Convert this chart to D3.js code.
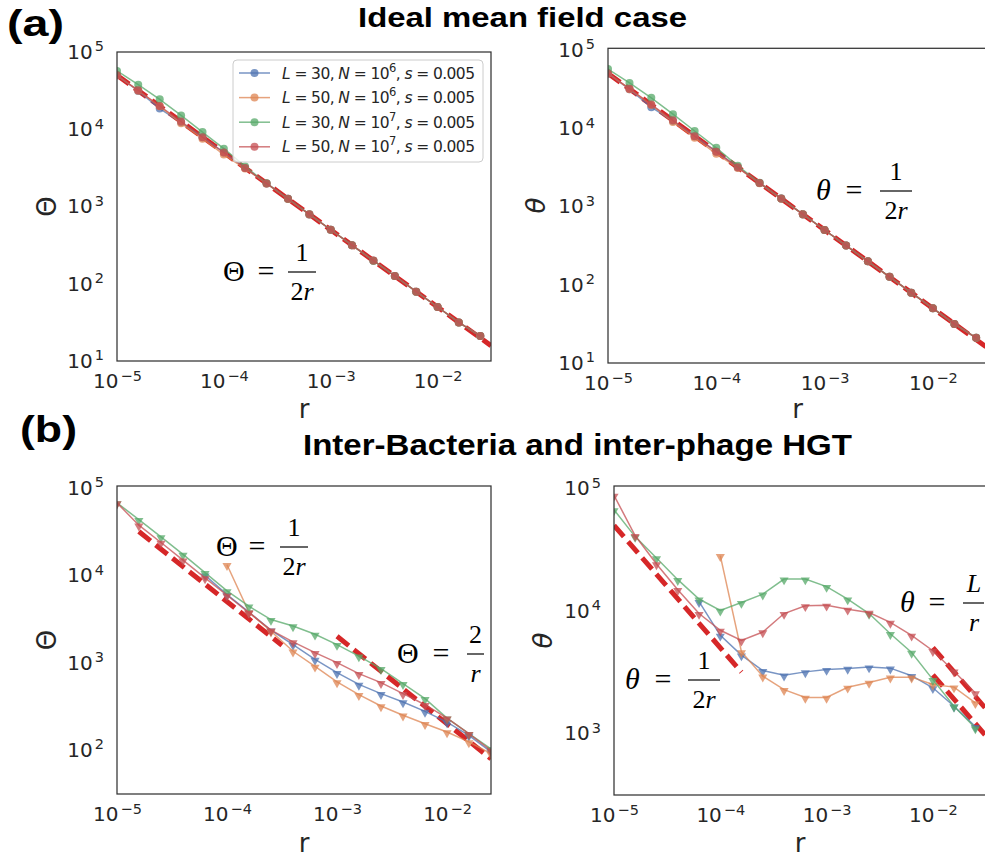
<!DOCTYPE html>
<html>
<head>
<meta charset="utf-8">
<script src="https://cdn.jsdelivr.net/npm/d3@7"></script>
<style>
  body { margin: 0; background: #fff; }
  text { fill: #262626; }
</style>
</head>
<body>
<div id="container"></div>
<script>
// recombination rates (x values)
const rVals = [1.0e-5, 1.58e-5, 2.51e-5, 3.98e-5, 6.31e-5, 1.0e-4, 1.58e-4, 2.51e-4, 3.98e-4,
               6.31e-4, 1.0e-3, 1.58e-3, 2.51e-3, 3.98e-3, 6.31e-3, 1.0e-2, 1.58e-2, 2.51e-2];

// (a) ideal mean field, same numbers in both panels
const aBlue   = [50000, 31300, 18500, 12300, 7900, 5000, 3150, 1990, 1260, 790, 500, 316, 199, 126, 79, 50, 31.6, 21];
const aOrange = [50000, 31500, 19800, 12000, 7550, 4700, 3100, 1980, 1250, 790, 500, 316, 199, 126, 79, 50, 31.6, 21];
const aGreen  = [56800, 37800, 24400, 15100, 9200, 5600, 3300, 2000, 1260, 795, 500, 316, 199, 126, 79, 50, 31.6, 21];
const aRed    = [50000, 31900, 20000, 12600, 7900, 5000, 3160, 1990, 1260, 792, 500, 316, 200, 126, 79, 50, 31.6, 21];

// (b) left, Theta
const bThBlue   = [null, null, null, null, 10000, 6010, 3800, 2350, 1610, 1090, 767, 564, 442, 355, 277, 209, 147, 95];
const bThOrange = [null, null, null, null, null, 13200, 3800, 2290, 1350, 908, 601, 430, 319, 250, 200, 161, 124, 91];
const bThGreen  = [67300, 43400, 27500, 17300, 10700, 6620, 4420, 3110, 2630, 2110, 1610, 1190, 853, 575, 387, 232, 154, 103];
const bThRed    = [67300, 37400, 23700, 14900, 9320, 5900, 3740, 2350, 1730, 1300, 1000, 748, 590, 442, 330, 232, 154, 99];

// (b) right, theta
const bthBlue   = [null, null, null, null, 11900, 6310, 4350, 3250, 2980, 3170, 3310, 3380, 3470, 3400, 2950, 2350, 1660, 1130];
const bthOrange = [null, null, null, null, null, 28300, 4630, 2920, 2270, 1960, 1960, 2370, 2600, 2870, 2870, 2500, 2380, 1770];
const bthGreen  = [67100, 40500, 27100, 18000, 12500, 10100, 11700, 13700, 18200, 18200, 15800, 12500, 9510, 6500, 4570, 2740, 1660, 1100];
const bthRed    = [88100, 41300, 24200, 14900, 9510, 6940, 5740, 6720, 9510, 11000, 11100, 10300, 9700, 8050, 6310, 4720, 3210, 2130];

// guide lines (dashed), endpoints only
const refA    = { r: [1e-5, 0.0316], v: [50000, 15.8] };
const refB1a  = { r: [1.58e-5, 3.16e-4], v: [31600, 1580] };
const refB1b  = { r: [1.0e-3, 0.0251], v: [2000, 79.6] };
const refB2a  = { r: [1e-5, 1.58e-4], v: [50000, 3160] };
const refB2L50 = { r: [0.01, 0.0316], v: [5000, 1580] };
const refB2L30 = { r: [0.01, 0.0316], v: [3000, 949] };

const legendL = [30, 50, 30, 50];
const legendNexp = [6, 6, 7, 7];
const legendS = '0.005';

const xTickExps = [-5, -4, -3, -2];
const colors = ['#4C72B0', '#DD8452', '#55A868', '#C44E52'];

const w = 985, h = 861;

const svg = d3.select('#container')
  .append('svg')
  .attr('width', w)
  .attr('height', h)
  .attr('viewBox', [0, 0, w, h]);

const panels = [
  { x0: 117, x1: 491, y0: 52, y1: 361, xd: [1e-5, 0.0316], yd: [10, 1e5], yExps: [1, 2, 3, 4, 5],
    yLabel: 'Θ', italic: false, labX: 56, rY: 418,
    series: [aBlue, aOrange, aGreen, aRed], marker: 'circle', refs: [refA] },
  { x0: 608, x1: 987, y0: 48.3, y1: 363, xd: [1e-5, 0.0316], yd: [10, 1.047e5], yExps: [1, 2, 3, 4, 5],
    yLabel: 'θ', italic: true, labX: 545, rY: 418,
    series: [aBlue, aOrange, aGreen, aRed], marker: 'circle', refs: [refA] },
  { x0: 117, x1: 491, y0: 486, y1: 794, xd: [1e-5, 0.0251], yd: [31.4, 1.05e5], yExps: [2, 3, 4, 5],
    yLabel: 'Θ', italic: false, labX: 56, rY: 852,
    series: [bThBlue, bThOrange, bThGreen, bThRed], marker: 'tri', refs: [refB1a, refB1b] },
  { x0: 614, x1: 986, y0: 486, y1: 795, xd: [1e-5, 0.0316], yd: [312, 1.05e5], yExps: [3, 4, 5],
    yLabel: 'θ', italic: true, labX: 552, rY: 852,
    series: [bthBlue, bthOrange, bthGreen, bthRed], marker: 'tri', refs: [refB2a, refB2L50, refB2L30] }
];

const supText = e => (e < 0 ? '\u2212' + (-e) : String(e));

function powLabel(sel, e) {
  sel.text('10')
    .attr('font-size', 20)
    .style('font-size', '20px')
    .style('font-family', '"DejaVu Sans", sans-serif');
  sel.append('tspan')
    .attr('dy', -7.5).attr('dx', 2)
    .style('font-size', '14.5px')
    .text(supText(e));
}

panels.forEach((p, i) => {
  const x = d3.scaleLog().domain(p.xd).range([p.x0, p.x1]);
  const y = d3.scaleLog().domain(p.yd).range([p.y1, p.y0]);
  const g = svg.append('g');

  g.append('clipPath').attr('id', 'clip' + i)
    .append('rect')
    .attr('x', p.x0).attr('y', p.y0)
    .attr('width', p.x1 - p.x0).attr('height', p.y1 - p.y0);

  const plot = g.append('g').attr('clip-path', `url(#clip${i})`);

  const refLine = d3.line().x(d => x(d[0])).y(d => y(d[1]));
  p.refs.forEach(ref => {
    plot.append('path')
      .attr('d', refLine(ref.r.map((r, j) => [r, ref.v[j]])))
      .attr('fill', 'none')
      .attr('stroke', '#d62728')
      .attr('stroke-width', 5)
      .attr('stroke-dasharray', '15 6.5');
  });

  const line = d3.line()
    .defined(d => d[1] != null)
    .x(d => x(d[0]))
    .y(d => y(d[1]));

  p.series.forEach((vals, si) => {
    const pts = rVals.map((r, j) => [r, vals[j]]);
    plot.append('path')
      .attr('d', line(pts))
      .attr('fill', 'none')
      .attr('stroke', colors[si])
      .attr('stroke-opacity', 0.75)
      .attr('stroke-width', 1.5);

    const ok = pts.filter(d => d[1] != null);
    if (p.marker === 'circle') {
      plot.selectAll(null).data(ok).enter()
        .append('circle')
        .attr('cx', d => x(d[0]))
        .attr('cy', d => y(d[1]))
        .attr('r', 4)
        .attr('fill', colors[si])
        .attr('fill-opacity', 0.75);
    } else {
      plot.selectAll(null).data(ok).enter()
        .append('path')
        .attr('d', d3.symbol(d3.symbolTriangle, 36))
        .attr('transform', d => `translate(${x(d[0])},${y(d[1]) + 1}) rotate(180)`)
        .attr('fill', colors[si])
        .attr('fill-opacity', 0.75);
    }
  });

  g.append('rect')
    .attr('x', p.x0).attr('y', p.y0)
    .attr('width', p.x1 - p.x0).attr('height', p.y1 - p.y0)
    .attr('fill', 'none')
    .attr('stroke', '#333')
    .attr('stroke-width', 1.25);

  const gx = g.append('g')
    .attr('transform', `translate(0,${p.y1})`)
    .call(d3.axisBottom(x).tickValues(xTickExps.map(e => Math.pow(10, e))).tickSize(0).tickPadding(13))
    .attr('font-size', 20);
  gx.select('.domain').remove();
  gx.selectAll('text').each(function(d, j) { powLabel(d3.select(this), xTickExps[j]); });

  const gy = g.append('g')
    .attr('transform', `translate(${p.x0},0)`)
    .call(d3.axisLeft(y).tickValues(p.yExps.map(e => Math.pow(10, e))).tickSize(0).tickPadding(13))
    .attr('font-size', 20);
  gy.select('.domain').remove();
  gy.selectAll('text').each(function(d, j) { powLabel(d3.select(this), p.yExps[j]); });

  g.append('text')
    .attr('x', (p.x0 + p.x1) / 2)
    .attr('y', p.rY)
    .attr('text-anchor', 'middle')
    .style('font-family', '"DejaVu Sans", sans-serif')
    .style('font-size', '26px')
    .text('r');

  g.append('text')
    .attr('transform', `translate(${p.labX},${(p.y0 + p.y1) / 2}) rotate(-90)`)
    .attr('text-anchor', 'middle')
    .style('font-family', '"DejaVu Sans", sans-serif')
    .style('font-size', '26px')
    .style('font-style', p.italic ? 'oblique' : 'normal')
    .text(p.yLabel);
});

// legend (panel a, left)
const leg = svg.append('g');
leg.append('rect')
  .attr('x', 233).attr('y', 60).attr('width', 250).attr('height', 102)
  .attr('rx', 4)
  .attr('fill', '#fff').attr('fill-opacity', 0.8)
  .attr('stroke', '#ccc').attr('stroke-width', 1);

legendL.forEach((L, i) => {
  const yy = 73 + i * 24.6;
  leg.append('line')
    .attr('x1', 239).attr('x2', 270).attr('y1', yy).attr('y2', yy)
    .attr('stroke', colors[i]).attr('stroke-opacity', 0.75).attr('stroke-width', 1.5);
  leg.append('circle')
    .attr('cx', 254.5).attr('cy', yy).attr('r', 4)
    .attr('fill', colors[i]).attr('fill-opacity', 0.75);
  const t = leg.append('text')
    .attr('x', 282).attr('y', yy + 5.5)
    .attr('textLength', 193)
    .style('font-family', '"DejaVu Sans", sans-serif')
    .style('font-size', '15.5px');
  t.append('tspan').style('font-style', 'oblique').text('L');
  t.append('tspan').text(` = ${L}, `);
  t.append('tspan').style('font-style', 'oblique').text('N');
  t.append('tspan').text(' = 10');
  t.append('tspan').attr('dy', -7).style('font-size', '11.5px').text(legendNexp[i]);
  t.append('tspan').attr('dy', 7).text(', ');
  t.append('tspan').style('font-style', 'oblique').text('s');
  t.append('tspan').text(` = ${legendS}`);
});

// formula annotations
const notes = [
  { lhs: 'Θ', it: false, x: 223, eqX: 266, barY: 272, bx0: 288, bx1: 316, num: [['1', false]], den: [['2', false], ['r', true]] },
  { lhs: 'θ', it: true,  x: 816, eqX: 854, barY: 191, bx0: 880, bx1: 912, num: [['1', false]], den: [['2', false], ['r', true]] },
  { lhs: 'Θ', it: false, x: 216, eqX: 257, barY: 547, bx0: 280, bx1: 308, num: [['1', false]], den: [['2', false], ['r', true]] },
  { lhs: 'Θ', it: false, x: 397, eqX: 441, barY: 654, bx0: 467, bx1: 484, num: [['2', false]], den: [['r', true]] },
  { lhs: 'θ', it: true,  x: 625, eqX: 663, barY: 680, bx0: 688, bx1: 720, num: [['1', false]], den: [['2', false], ['r', true]] },
  { lhs: 'θ', it: true,  x: 900, eqX: 937, barY: 603, bx0: 963, bx1: 984, num: [['L', true]], den: [['r', true]] }
];

const serif = '"Liberation Serif", "DejaVu Serif", serif';

function mathText(g, x, y, parts, size) {
  const t = g.append('text')
    .attr('x', x).attr('y', y)
    .attr('text-anchor', 'middle')
    .style('font-family', serif)
    .style('font-size', size + 'px')
    .style('fill', '#000');
  parts.forEach(pt => {
    t.append('tspan').style('font-style', pt[1] ? 'italic' : 'normal').text(pt[0]);
  });
}

notes.forEach(n => {
  const g = svg.append('g');
  g.append('text')
    .attr('x', n.x).attr('y', n.barY + 9)
    .style('font-family', serif)
    .style('font-size', '30px')
    .style('font-style', n.it ? 'italic' : 'normal')
    .style('fill', '#000')
    .text(n.lhs);
  g.append('text')
    .attr('x', n.eqX).attr('y', n.barY + 9)
    .attr('text-anchor', 'middle')
    .style('font-family', serif)
    .style('font-size', '30px')
    .style('fill', '#000')
    .text('=');
  g.append('line')
    .attr('x1', n.bx0).attr('x2', n.bx1)
    .attr('y1', n.barY).attr('y2', n.barY)
    .attr('stroke', '#000').attr('stroke-width', 1.2);
  const cx = n.bx0 === 963 ? 974 : (n.bx0 + n.bx1) / 2;
  mathText(g, cx, n.barY - 11, n.num, 26);
  mathText(g, cx, n.barY + 28, n.den, 26);
});

// panel tags and titles
const heading = '"Liberation Sans", Arial, Helvetica, sans-serif';
svg.append('text').attr('x', 7).attr('y', 36)
  .attr('textLength', 57).attr('lengthAdjust', 'spacingAndGlyphs')
  .style('font-family', heading).style('font-weight', 'bold').style('font-size', '37px')
  .style('fill', '#000').text('(a)');
svg.append('text').attr('x', 20).attr('y', 442)
  .attr('textLength', 57).attr('lengthAdjust', 'spacingAndGlyphs')
  .style('font-family', heading).style('font-weight', 'bold').style('font-size', '37px')
  .style('fill', '#000').text('(b)');
svg.append('text').attr('x', 358).attr('y', 27)
  .attr('textLength', 329).attr('lengthAdjust', 'spacingAndGlyphs')
  .style('font-family', heading).style('font-weight', 'bold').style('font-size', '27px')
  .style('fill', '#000').text('Ideal mean field case');
svg.append('text').attr('x', 303).attr('y', 455)
  .attr('textLength', 549).attr('lengthAdjust', 'spacingAndGlyphs')
  .style('font-family', heading).style('font-weight', 'bold').style('font-size', '30px')
  .style('fill', '#000').text('Inter-Bacteria and inter-phage HGT');
</script>
</body>
</html>
